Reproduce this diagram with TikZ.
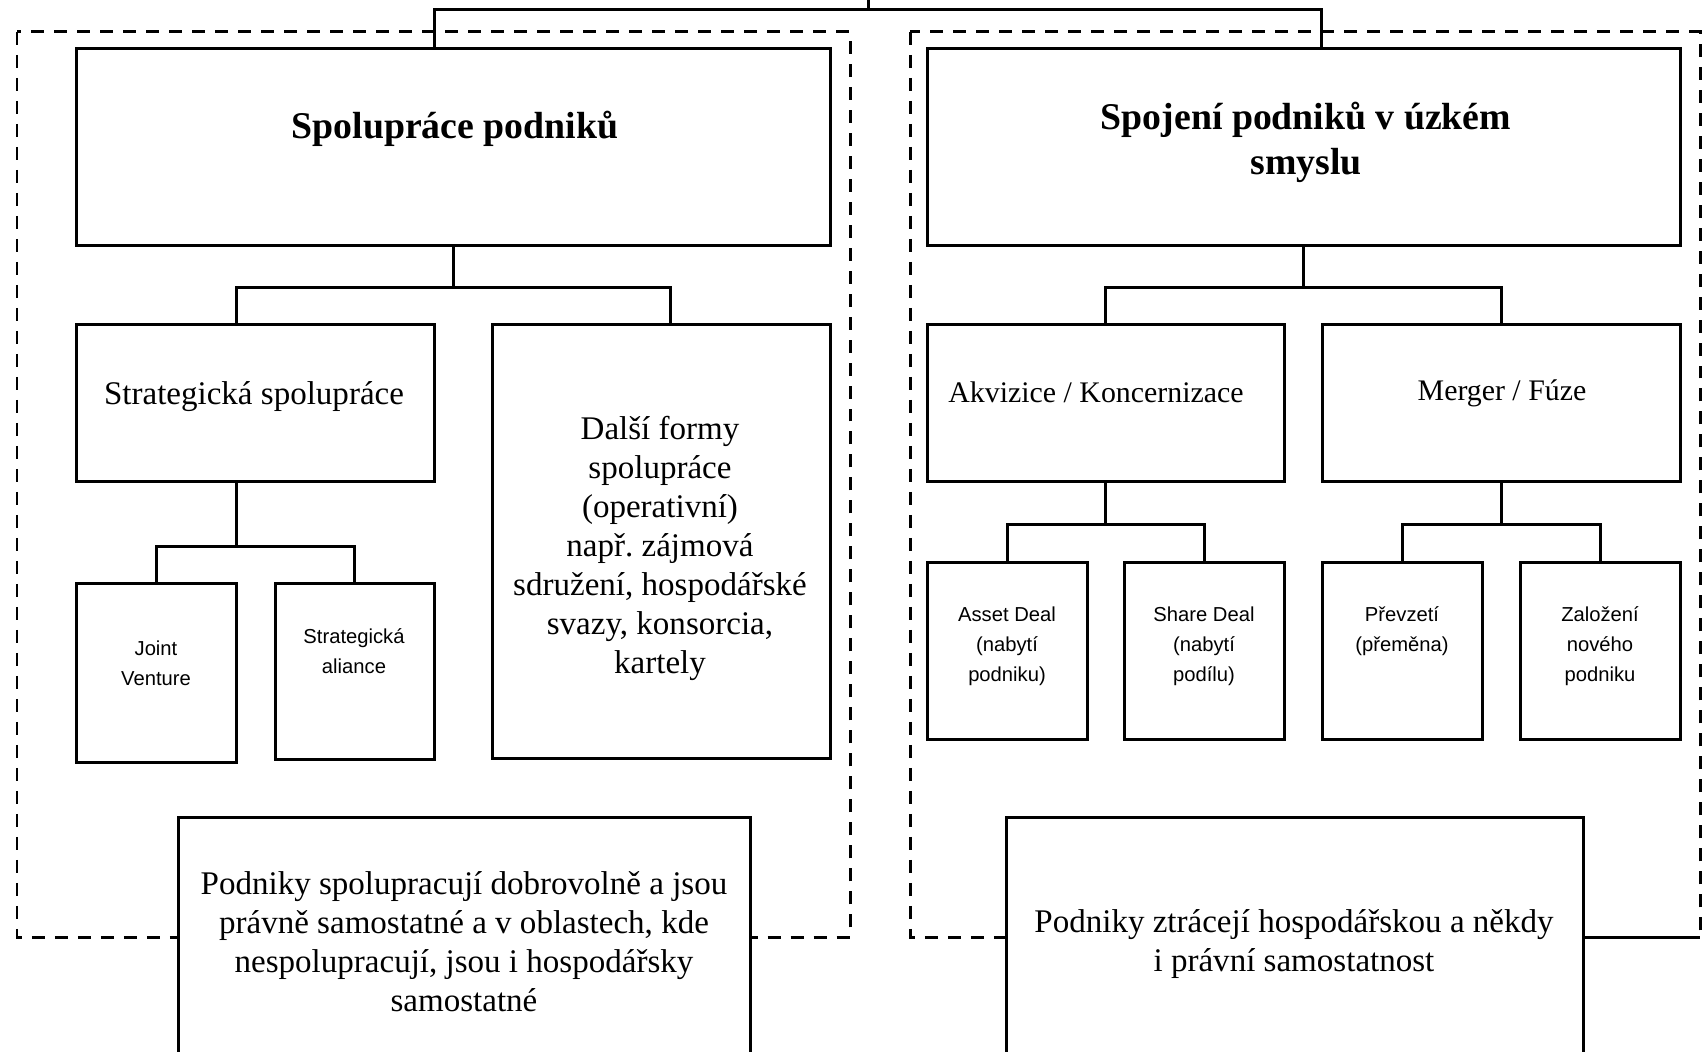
\documentclass[tikz,border=0pt]{standalone}
\usepackage{fontspec}
\setmainfont{Liberation Serif}
\setsansfont{Liberation Sans}
\tikzset{
box/.style 2 args={draw, line width=0.06cm, fill=white, inner sep=0pt, outer sep=0pt,
                   minimum width=#1*0.02cm, minimum height=#2*0.02cm},
dashbox/.style={draw, line width=0.06cm, dash pattern=on 0.26cm off 0.2cm},
link/.style={line width=0.06cm},
headtxt/.style={font=\bfseries\fontsize{21.5}{25.6}\selectfont, align=center, inner sep=0pt},
bodytxt/.style={font=\fontsize{18.8}{22.2}\selectfont, align=center, inner sep=0pt},
midtxt/.style={font=\fontsize{17}{20}\selectfont, align=center, inner sep=0pt},
smalltxt/.style={font=\sffamily\fontsize{11.5}{17}\selectfont, align=center, inner sep=0pt},
}
\begin{document}
\begin{tikzpicture}[x=0.02cm, y=-0.02cm]
			\useasboundingbox (0,0) rectangle (1706,1051);
			\clip (0,0) rectangle (1706,1051);
			\draw [dashbox] (17,32) rectangle (850,937);
			\draw [dashbox] (910,32) rectangle (1700,937);
			\node [box={754}{196}] (coop) at (453,147) {};
			\node [box={753}{196}] (merge) at (1303.5,147) {};
			\node [box={358}{157}] (strat) at (255,402.5) {};
			\node [box={338}{434}] (other) at (661,541) {};
			\node [box={160}{179}] (jv) at (156,672.5) {};
			\node [box={159}{176}] (sa) at (354.5,671) {};
			\node [box={357}{157}] (akv) at (1105.5,402.5) {};
			\node [box={358}{157}] (fuze) at (1501,402.5) {};
			\node [box={160}{177}] (asset) at (1007,650.5) {};
			\node [box={160}{177}] (share) at (1204,650.5) {};
			\node [box={160}{177}] (prevz) at (1402,650.5) {};
			\node [box={160}{177}] (zal) at (1600,650.5) {};
			\node [box={572}{253}] (descl) at (464,943.5) {};
			\node [box={577}{253}] (descr) at (1294.5,943.5) {};
			\draw [link] (descr.east |- 0,937) to (1700,937);
			\coordinate (top) at (868,0);
			\coordinate (t1) at (434,10);
			\coordinate (t2) at (1321,10);
			\coordinate (a1) at (236,287);
			\coordinate (a2) at (670,287);
			\coordinate (b1) at (236,546);
			\coordinate (c1) at (1107,287);
			\coordinate (d1) at (1107,524);
			\draw [link] (top) to (top |- t1);
			\draw [link] (t1 |- coop.north) -- (t1) -- (t2) -- (t2 |- merge.north);
			\draw [link] (coop.south) to (coop.south |- a1);
			\draw [link] (a1 |- strat.north) -- (a1) -- (a2) -- (a2 |- other.north);
			\draw [link] (a1 |- strat.south) to (b1);
			\draw [link] (jv.north) |- (sa.north |- b1) -- (sa.north);
			\draw [link] (merge.south) to (merge.south |- c1);
			\draw [link] (akv.north) |- (fuze.north |- c1) -- (fuze.north);
			\draw [link] (akv.south) to (akv.south |- d1);
			\draw [link] (asset.north) |- (share.north |- d1) -- (share.north);
			\draw [link] (fuze.south) to (fuze.south |- d1);
			\draw [link] (prevz.north) |- (zal.north |- d1) -- (zal.north);
			\node [headtxt] (coopt) at (455,129) {Spolupráce podniků};
			\node [headtxt] (merget) at (1306,142) {Spojení podniků v úzkém\\smyslu};
			\node [bodytxt] (stratt) at (254,397) {Strategická spolupráce};
			\node [bodytxt] (othert) at (660,548) {Další formy\\spolupráce\\(operativní)\\např.\ zájmová\\sdružení, hospodářské\\svazy, konsorcia,\\kartely};
			\node [smalltxt] (jvt) at (156,663) {Joint\\Venture};
			\node [smalltxt] (sat) at (354,651) {Strategická\\aliance};
			\node [midtxt] (akvt) at (1096,392) {Akvizice / Koncernizace};
			\node [midtxt] (fuzet) at (1502,393) {Merger / Fúze};
			\node [smalltxt] (assett) at (1007,646) {Asset Deal\\(nabytí\\podniku)};
			\node [smalltxt] (sharet) at (1204,646) {Share Deal\\(nabytí\\podílu)};
			\node [smalltxt] (prevzt) at (1402,631) {Převzetí\\(přeměna)};
			\node [smalltxt] (zalt) at (1600,646) {Založení\\nového\\podniku};
			\node [bodytxt] (desclt) at (464,942) {Podniky spolupracují dobrovolně a jsou\\právně samostatné a v oblastech, kde\\nespolupracují, jsou i hospodářsky\\samostatné};
			\node [bodytxt] (descrt) at (1294,944) {Podniky ztrácejí hospodářskou a někdy\\i právní samostatnost};
		\end{tikzpicture}
\end{document}
